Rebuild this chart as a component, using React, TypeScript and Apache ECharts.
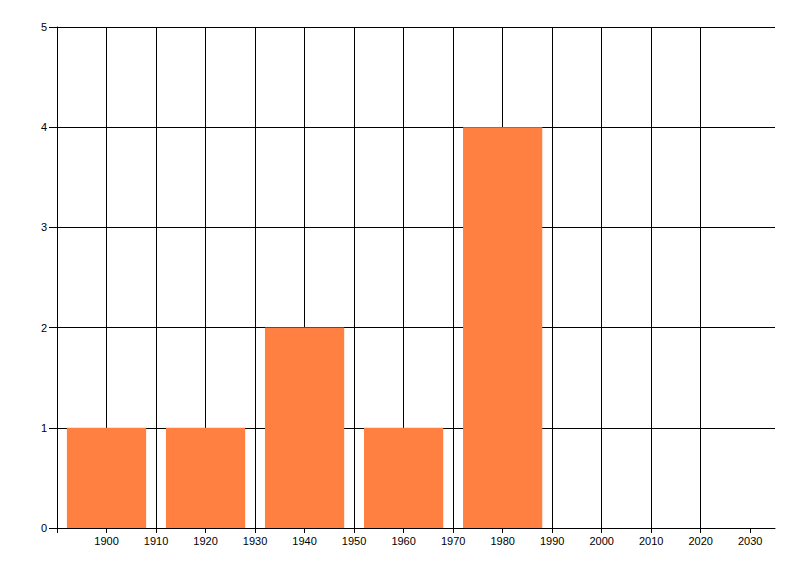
import React, { useEffect, useRef } from "react";
import * as echarts from "echarts";

const decades = [1900, 1920, 1940, 1960, 1980];
const counts = [1, 1, 2, 1, 4];
const tickYears = [1890, 1900, 1910, 1920, 1930, 1940, 1950, 1960, 1970, 1980, 1990, 2000, 2010, 2020, 2030];
const labelYears = [1900, 1910, 1920, 1930, 1940, 1950, 1960, 1970, 1980, 1990, 2000, 2010, 2020, 2030];
const BAR_SPAN = 16;

export default function App() {
  const ref = useRef<HTMLDivElement>(null);
  useEffect(() => {
    if (!ref.current) return;
    const chart = echarts.init(ref.current, undefined, { renderer: "svg" });
    const font = "Liberation Sans";
    chart.setOption({
      animation: false,
      backgroundColor: "#ffffff",
      grid: { left: 57, right: 25, top: 27, bottom: 48, containLabel: false },
      xAxis: {
        type: "value",
        min: 1890,
        max: 2035,
        interval: 10,
        axisLine: { show: true, lineStyle: { color: "#000", width: 1 } },
        axisTick: { show: true, length: 5, lineStyle: { color: "#000" }, customValues: tickYears },
        axisLabel: {
          color: "#000",
          fontFamily: font,
          fontSize: 11,
          margin: 7,
          customValues: labelYears,
          formatter: (v: number) => String(v),
        },
        splitLine: { show: true, showMaxLine: false, lineStyle: { color: "#000", width: 1 } },
      },
      yAxis: {
        type: "value",
        min: 0,
        max: 5,
        interval: 1,
        axisLine: { show: true, lineStyle: { color: "#000", width: 1 } },
        axisTick: { show: true, length: 8, lineStyle: { color: "#000" } },
        axisLabel: { color: "#000", fontFamily: font, fontSize: 11, margin: 10 },
        splitLine: { show: true, lineStyle: { color: "#000", width: 1 } },
      },
      series: [
        {
          type: "custom",
          data: decades.map((d, i) => [d, counts[i]]),
          renderItem: (params: any, api: any) => {
            const x = api.value(0);
            const y = api.value(1);
            const p1 = api.coord([x - BAR_SPAN / 2, y]);
            const p2 = api.coord([x + BAR_SPAN / 2, 0]);
            return {
              type: "rect",
              shape: { x: p1[0], y: p1[1], width: p2[0] - p1[0], height: p2[1] - p1[1] },
              style: { fill: "#FF8040" },
            };
          },
        },
      ],
    });
    return () => chart.dispose();
  }, []);
  return <div ref={ref} style={{ position: "fixed", left: 0, top: 0, width: 800, height: 576 }} />;
}
